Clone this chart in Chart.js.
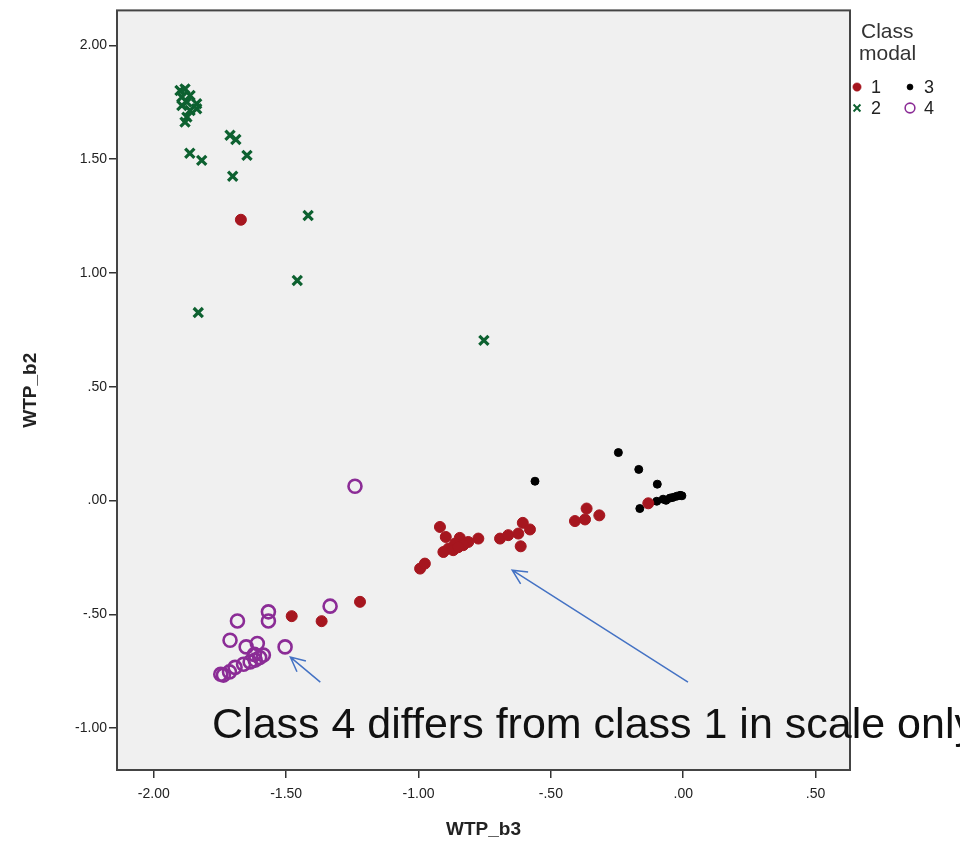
<!DOCTYPE html>
<html>
<head>
<meta charset="utf-8">
<script src="https://cdn.jsdelivr.net/npm/chart.js@4.4.1/dist/chart.umd.min.js"></script>
<style>
  html, body { margin: 0; padding: 0; background: #fff; }
  #wrap { width: 960px; height: 848px; }
</style>
</head>
<body>
<div id="wrap"><canvas id="scatter"></canvas></div>
<script>
// axis ticks (SPSS style labels)
const xTicks = [-2, -1.5, -1, -0.5, 0, 0.5];
const yTicks = [-1, -0.5, 0, 0.5, 1, 1.5, 2];
const xRange = [-2.139, 0.630];
const yRange = [-1.184, 2.154];

const classLabels = ['1', '2', '3', '4'];

// [WTP_b3, WTP_b2] per class
const class1 = [
    [-1.671, 1.234], [-1.479, -0.508], [-1.366, -0.530], [-1.221, -0.445],
    [-0.994, -0.299], [-0.976, -0.277], [-0.919, -0.116], [-0.897, -0.160],
    [-0.844, -0.164], [-0.774, -0.167], [-0.812, -0.182], [-0.862, -0.189],
    [-0.887, -0.211], [-0.906, -0.226], [-0.831, -0.196], [-0.869, -0.218],
    [-0.850, -0.205], [-0.692, -0.167], [-0.661, -0.152], [-0.623, -0.145],
    [-0.606, -0.098], [-0.579, -0.127], [-0.614, -0.201], [-0.409, -0.090],
    [-0.371, -0.083], [-0.365, -0.035], [-0.317, -0.065], [-0.132, -0.012]
];
const class2 = [
    [-1.901, 1.802], [-1.882, 1.809], [-1.894, 1.773], [-1.863, 1.780],
    [-1.875, 1.751], [-1.838, 1.744], [-1.894, 1.736], [-1.863, 1.714],
    [-1.838, 1.722], [-1.875, 1.685], [-1.882, 1.663], [-1.864, 1.526],
    [-1.819, 1.495], [-1.712, 1.605], [-1.690, 1.587], [-1.648, 1.517],
    [-1.702, 1.425], [-1.417, 1.253], [-1.458, 0.967], [-1.832, 0.826],
    [-0.753, 0.704]
];
const class3 = [
    [-0.245, 0.211], [-0.168, 0.137], [-0.098, 0.072], [-0.164, -0.035],
    [-0.560, 0.085], [-0.100, -0.003], [-0.076, 0.006], [-0.065, 0.001],
    [-0.050, 0.011], [-0.039, 0.014], [-0.025, 0.019], [-0.012, 0.023],
    [-0.005, 0.021]
];
const class4 = [
    [-1.240, 0.063], [-1.334, -0.464], [-1.567, -0.489], [-1.567, -0.529],
    [-1.684, -0.529], [-1.712, -0.614], [-1.651, -0.643], [-1.609, -0.628],
    [-1.504, -0.643], [-1.586, -0.679], [-1.617, -0.701], [-1.636, -0.709],
    [-1.661, -0.719], [-1.693, -0.733], [-1.714, -0.753], [-1.737, -0.767],
    [-1.747, -0.763], [-1.600, -0.690], [-1.620, -0.676]
];

// annotation (in data units)
const noteText = 'Class 4 differs from class 1 in scale only';
const notePos = [-1.780, -1.044];
const arrowTails = [[0.018, -0.798], [-1.371, -0.798]];
const arrowHeads = [[-0.646, -0.306], [-1.484, -0.688]];

function spssFmt(v) {
    let s = Math.abs(v).toFixed(2);
    if (s.charAt(0) === '0') s = s.slice(1);
    return (v < 0 ? '-' : '') + s;
}

function toPoints(arr) {
    return arr.map(p => ({ x: p[0], y: p[1] }));
}

const FONT = '"Liberation Sans", Arial, sans-serif';

// grey plot area + frame
const framePlugin = {
    id: 'frame',
    beforeDraw(chart) {
        const a = chart.chartArea, ctx = chart.ctx;
        ctx.save();
        ctx.fillStyle = '#F0F0F0';
        ctx.fillRect(a.left, a.top, a.right - a.left, a.bottom - a.top);
        ctx.restore();
    },
    afterDatasetsDraw(chart) {
        const a = chart.chartArea, ctx = chart.ctx;
        ctx.save();
        ctx.strokeStyle = '#444';
        ctx.lineWidth = 2;
        ctx.strokeRect(a.left, a.top, a.right - a.left, a.bottom - a.top);
        ctx.restore();
    }
};

// "Class modal" legend, 2 x 2
const legendPlugin = {
    id: 'classLegend',
    afterDraw(chart) {
        const ctx = chart.ctx, x0 = chart.chartArea.right;
        ctx.save();
        ctx.fillStyle = '#333';
        ctx.textBaseline = 'alphabetic';
        ctx.font = '21px ' + FONT;
        ctx.fillText('Class', x0 + 11, 38);
        ctx.fillText('modal', x0 + 9, 60);
        ctx.font = '18px ' + FONT;
        ctx.textBaseline = 'middle';
        const order = [0, 2, 1, 3]; // 1 3 / 2 4
        order.forEach((di, k) => {
            const ds = chart.data.datasets[di];
            const col = k % 2, row = Math.floor(k / 2);
            const mx = x0 + 7 + col * 53;
            const my = 87 + row * 21;
            ctx.fillStyle = ds.backgroundColor;
            ctx.strokeStyle = ds.borderColor;
            ctx.lineWidth = ds.borderWidth * 0.6;
            Chart.helpers.drawPoint(ctx, {
                pointStyle: ds.pointStyle,
                radius: ds.pointRadius * 0.75,
                borderWidth: ds.borderWidth * 0.6
            }, mx, my);
            ctx.fillStyle = '#222';
            ctx.fillText(ds.label, mx + 14, my + 1);
        });
        ctx.restore();
    }
};

// text + blue arrows
const notePlugin = {
    id: 'note',
    afterDraw(chart) {
        const ctx = chart.ctx, xs = chart.scales.x, ys = chart.scales.y;
        ctx.save();
        ctx.strokeStyle = '#4472C4';
        ctx.lineWidth = 1.5;
        arrowTails.forEach((t, i) => {
            const h = arrowHeads[i];
            const tx = xs.getPixelForValue(t[0]), ty = ys.getPixelForValue(t[1]);
            const hx = xs.getPixelForValue(h[0]), hy = ys.getPixelForValue(h[1]);
            const ang = Math.atan2(ty - hy, tx - hx);
            ctx.beginPath();
            ctx.moveTo(tx, ty);
            ctx.lineTo(hx, hy);
            ctx.moveTo(hx + 16 * Math.cos(ang + 0.45), hy + 16 * Math.sin(ang + 0.45));
            ctx.lineTo(hx, hy);
            ctx.lineTo(hx + 16 * Math.cos(ang - 0.45), hy + 16 * Math.sin(ang - 0.45));
            ctx.stroke();
        });
        ctx.fillStyle = '#111';
        ctx.font = '43px ' + FONT;
        ctx.textBaseline = 'alphabetic';
        ctx.fillText(noteText, xs.getPixelForValue(notePos[0]), ys.getPixelForValue(notePos[1]));
        ctx.restore();
    }
};

new Chart(document.getElementById('scatter'), {
    type: 'scatter',
    data: {
        datasets: [
            {
                label: classLabels[0], data: toPoints(class1),
                pointStyle: 'circle', pointRadius: 5.5, borderWidth: 1,
                backgroundColor: '#A6161F', borderColor: '#A6161F'
            },
            {
                label: classLabels[1], data: toPoints(class2),
                pointStyle: 'crossRot', pointRadius: 6.5, borderWidth: 3.2,
                backgroundColor: '#0D6130', borderColor: '#0D6130'
            },
            {
                label: classLabels[2], data: toPoints(class3),
                pointStyle: 'circle', pointRadius: 4, borderWidth: 1,
                backgroundColor: '#000', borderColor: '#000'
            },
            {
                label: classLabels[3], data: toPoints(class4),
                pointStyle: 'circle', pointRadius: 6.5, borderWidth: 2.6,
                backgroundColor: 'rgba(0,0,0,0)', borderColor: '#8B2C96'
            }
        ]
    },
    options: {
        responsive: true,
        maintainAspectRatio: false,
        animation: false,
        layout: { padding: { top: 10, right: 110, bottom: 0, left: 0 } },
        plugins: {
            legend: { display: false },
            tooltip: { enabled: false }
        },
        scales: {
            x: {
                type: 'linear',
                min: xRange[0], max: xRange[1],
                afterBuildTicks: s => { s.ticks = xTicks.map(v => ({ value: v })); },
                afterFit: s => { s.height = 78; },
                grid: { drawOnChartArea: false, drawTicks: true, tickLength: 8, color: '#333', lineWidth: 1.5 },
                border: { display: false },
                ticks: {
                    callback: v => spssFmt(v), maxRotation: 0, autoSkip: false, padding: 8,
                    color: '#222', font: { family: FONT, size: 14 }
                },
                title: {
                    display: true, text: 'WTP_b3', color: '#222',
                    font: { family: FONT, size: 19, weight: 'bold' },
                    padding: { top: 0, bottom: 7 }
                }
            },
            y: {
                type: 'linear',
                min: yRange[0], max: yRange[1],
                afterBuildTicks: s => { s.ticks = yTicks.map(v => ({ value: v })); },
                afterFit: s => { s.width = 117; },
                grid: { drawOnChartArea: false, drawTicks: true, tickLength: 8, color: '#333', lineWidth: 1.5 },
                border: { display: false },
                ticks: {
                    callback: v => spssFmt(v), autoSkip: false, padding: 2,
                    color: '#222', font: { family: FONT, size: 14 }
                },
                title: {
                    display: true, text: 'WTP_b2', color: '#222',
                    font: { family: FONT, size: 19, weight: 'bold' },
                    padding: { top: 19, bottom: 0 }
                }
            }
        }
    },
    plugins: [framePlugin, legendPlugin, notePlugin]
});
</script>
</body>
</html>
